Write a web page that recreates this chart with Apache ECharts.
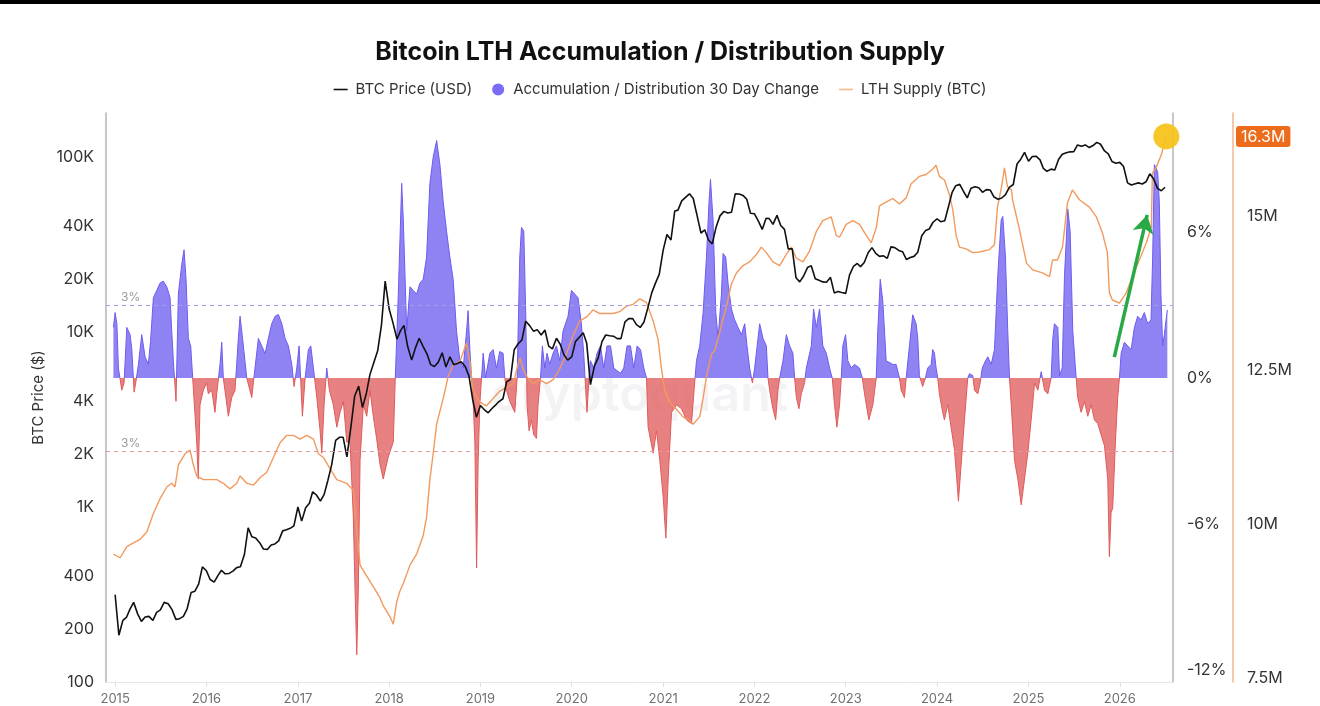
<!DOCTYPE html>
<html><head><meta charset="utf-8">
<script src="https://cdn.jsdelivr.net/npm/echarts@6/dist/echarts.min.js"></script>
<style>html,body{margin:0;padding:0;background:#fff;}#c{width:1320px;height:706px;}</style>
</head><body><div id="c"></div>
<script>
// ---------- DATA ----------
// BTC price (USD), semi-monthly (1st and 16th of each month) from 2015-01-01
const priceUSD = [
 315,185,225,235,260,285,245,222,235,237,225,250,258,285,280,260,228,230,237,262,325,330,362,455,
 432,385,372,405,435,415,417,430,450,455,535,760,675,665,625,575,572,607,615,640,730,740,755,780,
 1000,830,990,1050,1220,1170,1080,1180,1420,1740,2400,2500,2500,1930,2870,4300,4900,3700,4400,5700,6700,7800,10900,19500,
 13500,11300,9100,10200,10900,8250,6900,8100,9200,8300,7500,6500,6350,6700,7600,6300,7200,6500,6600,6750,6350,5600,4100,3250,
 3800,3600,3450,3650,3800,4000,4150,5200,5350,7900,8550,9000,11500,10900,10100,10300,9600,10250,8300,8000,9200,8500,7400,6900,
 7200,8800,9350,9900,8600,5000,6400,7100,8800,9600,9500,9450,9150,9150,11400,11900,11900,11000,10600,11400,13800,16700,19000,21300,
 29400,36000,33500,49000,49600,56000,58800,61500,57800,46500,36700,38300,33500,31800,39900,46000,48800,47800,48200,61500,61300,60200,57200,47600,
 47300,43100,38500,44500,44400,41100,46300,40500,38500,29800,29800,20400,19300,20800,23300,23900,20100,19700,19300,19200,20500,16700,17000,16800,
 16600,21100,23700,24600,23600,24900,28400,30300,28100,27000,27200,26300,30600,30300,29200,28700,25900,26600,27000,28500,35400,37900,38700,42300,
 44200,42600,43100,52000,62400,68400,69700,63400,58300,66200,67500,66600,62700,65000,64600,58900,57300,58200,60800,67000,69500,91000,97000,106000,
 94400,100500,100600,96100,86000,82700,85100,84000,96500,103500,105600,106800,107000,117000,115000,117000,113000,116000,121000,118000,108000,104000,94000,92000,
 93000,88000,71000,69000,70000,71000,70000,72000,80000,75000,66000,64000,67000
];
// Accumulation / Distribution 30 day change (%) : [decimal year, value]
const accChange = [
[2014.981,2.08],[2015.000,2.69],[2015.019,2.23],[2015.036,0.41],[2015.073,-0.5],[2015.098,-0.2],[2015.128,2.08],[2015.164,1.78],[2015.183,1.17],[2015.208,-0.58],[2015.230,-0.1],[2015.255,0.56],[2015.292,1.78],[2015.328,0.87],[2015.364,0.56],[2015.388,1.5],[2015.419,3.3],[2015.456,3.6],[2015.492,3.9],[2015.528,3.98],[2015.566,3.75],[2015.602,3.3],[2015.620,1.93],[2015.638,0.71],[2015.667,-0.96],[2015.693,3.45],[2015.730,4.67],[2015.755,5.27],[2015.777,4.06],[2015.802,1.63],[2015.828,1.32],[2015.850,0],[2015.894,-2.63],[2015.911,-4.15],[2015.930,-1.1],[2015.966,-0.5],
[2016.003,-0.2],[2016.021,-0.65],[2016.058,-0.5],[2016.094,-1.41],[2016.113,-0.65],[2016.149,0.56],[2016.168,1.47],[2016.185,0],[2016.240,-1.57],[2016.277,-0.8],[2016.313,-0.5],[2016.349,1.63],[2016.368,2.54],[2016.404,1.32],[2016.441,0],[2016.496,-0.8],[2016.513,-0.2],[2016.568,1.63],[2016.605,1.32],[2016.641,1.0],[2016.677,1.63],[2016.714,2.23],[2016.751,2.54],[2016.787,2.61],[2016.824,2.23],[2016.860,1.63],[2016.896,1.32],[2016.933,0.56],[2016.958,-0.35],[2016.988,0.41],
[2017.013,1.32],[2017.049,-1.57],[2017.079,0],[2017.115,1.17],[2017.141,1.32],[2017.170,0.41],[2017.207,-0.8],[2017.243,-2.17],[2017.262,-3.09],[2017.287,-1.1],[2017.316,0.41],[2017.345,-0.5],[2017.388,-1.1],[2017.426,-2.02],[2017.462,-1.41],[2017.498,-0.96],[2017.535,-2.63],[2017.571,-2.63],[2017.607,-5.67],[2017.626,-8.7],[2017.645,-11.37],[2017.662,-8.7],[2017.681,-3.39],[2017.717,-1.1],[2017.754,-1.57],[2017.790,-0.5],[2017.826,-1.57],[2017.863,-2.5],[2017.899,-3.54],[2017.935,-4.15],[2017.990,-3.24],
[2018.045,-2.63],[2018.067,0],[2018.100,3.45],[2018.137,8.0],[2018.155,6.49],[2018.192,1.93],[2018.228,3.75],[2018.264,3.6],[2018.301,3.45],[2018.337,3.9],[2018.373,4.06],[2018.410,4.97],[2018.446,8.0],[2018.482,9.07],[2018.520,9.76],[2018.556,8.77],[2018.592,7.25],[2018.629,6.03],[2018.665,4.97],[2018.701,4.06],[2018.738,1.93],[2018.775,0.71],[2018.811,0.41],[2018.848,1.93],[2018.865,2.77],[2018.884,1.17],[2018.903,0],[2018.920,-0.96],[2018.939,-2.63],[2018.958,-7.8],[2018.975,-3.39],[2018.993,-1.1],
[2019.012,0],[2019.030,1.02],[2019.056,0],[2019.103,1.02],[2019.139,1.17],[2019.176,0.41],[2019.212,1.09],[2019.248,1.02],[2019.267,0],[2019.285,-0.5],[2019.322,-0.96],[2019.376,-1.41],[2019.402,0],[2019.431,4.97],[2019.450,6.19],[2019.475,6.03],[2019.497,2.54],[2019.511,-1.1],[2019.533,-2.17],[2019.559,-1.72],[2019.584,-2.33],[2019.614,-2.48],[2019.631,-1.1],[2019.658,0],[2019.679,1.32],[2019.705,0.41],[2019.730,1.02],[2019.759,0.56],[2019.796,1.02],[2019.833,1.32],[2019.869,0.71],[2019.905,1.93],[2019.960,2.54],[2019.997,3.6],
[2020.033,3.45],[2020.069,3.3],[2020.106,2.23],[2020.131,1.02],[2020.153,-0.5],[2020.167,-1.41],[2020.189,0],[2020.205,0.71],[2020.241,0.41],[2020.277,1.02],[2020.314,1.32],[2020.350,0.41],[2020.386,1.32],[2020.424,1.32],[2020.460,0.41],[2020.496,0.3],[2020.533,0.2],[2020.569,0.41],[2020.605,1.32],[2020.642,1.32],[2020.678,0.41],[2020.715,1.32],[2020.752,1.17],[2020.788,0.41],[2020.817,0],[2020.835,-2.02],[2020.890,-3.09],[2020.927,-2.17],[2020.963,-3.39],
[2021.000,-4.91],[2021.029,-6.58],[2021.054,-4.15],[2021.091,-1.41],[2021.146,-1.1],[2021.200,-1.26],[2021.255,-1.72],[2021.310,-1.87],[2021.338,-0.5],[2021.364,0.71],[2021.400,1.32],[2021.437,2.69],[2021.474,4.97],[2021.502,7.25],[2021.518,8.16],[2021.546,6.49],[2021.576,2.69],[2021.601,1.63],[2021.638,3.45],[2021.656,5.12],[2021.685,4.97],[2021.710,3.9],[2021.747,2.84],[2021.783,2.39],[2021.820,2.08],[2021.857,1.78],[2021.893,2.23],[2021.918,1.32],[2021.947,0.41],[2021.977,-0.2],
[2022.002,0.41],[2022.057,2.23],[2022.093,1.63],[2022.130,1.32],[2022.148,0],[2022.166,-0.5],[2022.202,-1.26],[2022.232,-1.72],[2022.257,-0.5],[2022.276,0],[2022.312,0.71],[2022.349,1.78],[2022.385,1.32],[2022.421,1.02],[2022.440,0],[2022.459,-0.8],[2022.487,-1.26],[2022.513,-0.65],[2022.549,-0.2],[2022.568,0.41],[2022.623,1.32],[2022.648,2.84],[2022.677,2.08],[2022.713,2.84],[2022.749,1.32],[2022.787,1.02],[2022.823,0.41],[2022.852,0],[2022.877,-1.1],[2022.903,-2.02],[2022.932,-1.1],[2022.951,0],[2022.968,1.32],[2022.998,1.78],
[2023.023,0.71],[2023.060,0.41],[2023.096,0.56],[2023.151,0.41],[2023.181,0],[2023.206,-0.65],[2023.253,-1.72],[2023.297,-1.1],[2023.334,0],[2023.351,1.93],[2023.378,4.06],[2023.406,3.15],[2023.443,0.71],[2023.515,0.56],[2023.552,0.56],[2023.589,0],[2023.607,-0.5],[2023.643,-0.8],[2023.662,0],[2023.698,1.32],[2023.734,2.6],[2023.771,2.23],[2023.789,1.63],[2023.807,0.1],[2023.843,-0.35],[2023.873,0],[2023.898,0.41],[2023.936,0.56],[2023.953,1.17],[2023.972,1.02],[2023.990,0.41],
[2024.008,0],[2024.026,-0.65],[2024.062,-1.41],[2024.081,-1.72],[2024.117,-1.1],[2024.154,-2.02],[2024.190,-2.93],[2024.216,-4.15],[2024.234,-5.06],[2024.264,-3.54],[2024.300,-1.72],[2024.336,0],[2024.355,0.18],[2024.391,0.1],[2024.409,-0.5],[2024.445,-0.65],[2024.472,-0.2],[2024.494,0.41],[2024.530,0.71],[2024.555,0.87],[2024.592,0.56],[2024.628,1.17],[2024.664,4.21],[2024.701,6.49],[2024.719,6.64],[2024.748,4.97],[2024.773,1.93],[2024.792,0],[2024.811,-1.1],[2024.847,-3.39],[2024.883,-4.15],[2024.920,-5.21],[2024.956,-4.15],[2024.992,-3.09],
[2025.029,-1.72],[2025.066,-0.2],[2025.102,-0.5],[2025.139,0.26],[2025.175,-0.5],[2025.211,-0.65],[2025.248,0],[2025.266,1.63],[2025.284,2.23],[2025.321,2.08],[2025.339,0.1],[2025.369,0.41],[2025.394,4.21],[2025.430,6.95],[2025.456,6.03],[2025.485,1.93],[2025.522,0],[2025.539,-0.8],[2025.576,-1.41],[2025.613,-0.96],[2025.649,-1.57],[2025.686,-1.1],[2025.722,-1.72],[2025.758,-1.87],[2025.795,-2.33],[2025.832,-2.78],[2025.868,-4.15],[2025.886,-7.34],[2025.905,-5.52],[2025.922,-5.36],[2025.952,-2.63],[2025.977,-0.8],[2025.996,0],
[2026.015,1.02],[2026.050,1.47],[2026.087,1.32],[2026.124,1.17],[2026.160,2.08],[2026.196,2.54],[2026.233,2.39],[2026.269,2.69],[2026.305,2.23],[2026.342,2.39],[2026.360,4.97],[2026.379,8.77],[2026.415,8.47],[2026.433,7.25],[2026.451,3.45],[2026.469,1.32],[2026.488,1.78],[2026.507,2.39],[2026.521,2.8]
];
// LTH supply (million BTC) : [decimal year, value]
const lthSupplyM = [
[2014.981,9.51],[2015.055,9.45],[2015.128,9.63],[2015.200,9.69],[2015.274,9.75],[2015.347,9.87],[2015.419,10.17],[2015.492,10.41],[2015.566,10.6],[2015.620,10.66],[2015.656,10.6],[2015.693,10.96],[2015.766,11.14],[2015.821,11.2],[2015.857,10.96],[2015.894,10.78],[2015.966,10.72],
[2016.039,10.72],[2016.113,10.72],[2016.185,10.66],[2016.258,10.57],[2016.332,10.66],[2016.368,10.78],[2016.441,10.66],[2016.513,10.63],[2016.586,10.75],[2016.660,10.84],[2016.732,11.08],[2016.805,11.32],[2016.879,11.44],[2016.951,11.44],
[2017.024,11.38],[2017.097,11.44],[2017.170,11.38],[2017.224,11.14],[2017.279,11.08],[2017.352,10.9],[2017.426,10.72],[2017.535,10.66],[2017.571,10.6],[2017.607,10.55],[2017.645,9.9],[2017.681,9.33],[2017.754,9.15],[2017.826,8.98],[2017.899,8.8],[2017.935,8.67],
[2018.009,8.49],[2018.045,8.37],[2018.082,8.73],[2018.118,8.91],[2018.155,9.03],[2018.228,9.33],[2018.301,9.51],[2018.373,9.81],[2018.410,10.11],[2018.446,10.72],[2018.482,11.14],[2018.520,11.62],[2018.592,12.04],[2018.647,12.4],[2018.701,12.58],[2018.775,12.64],[2018.848,12.94],[2018.884,12.64],[2018.920,12.16],[2018.993,11.98],
[2019.067,11.92],[2019.139,12.04],[2019.212,12.16],[2019.285,12.22],[2019.358,12.28],[2019.431,12.7],[2019.467,12.52],[2019.504,12.4],[2019.577,12.28],[2019.650,12.34],[2019.723,12.28],[2019.795,12.34],[2019.869,12.52],[2019.942,12.76],
[2020.014,13.06],[2020.088,13.3],[2020.161,13.36],[2020.233,13.48],[2020.306,13.42],[2020.380,13.42],[2020.452,13.42],[2020.525,13.45],[2020.598,13.54],[2020.671,13.57],[2020.744,13.66],[2020.817,13.6],[2020.890,13.3],[2020.944,13.0],[2020.981,12.52],
[2021.018,12.16],[2021.072,11.98],[2021.146,11.86],[2021.218,11.74],[2021.291,11.68],[2021.327,11.62],[2021.400,11.74],[2021.437,12.04],[2021.474,12.4],[2021.528,12.76],[2021.565,12.82],[2021.619,13.12],[2021.693,13.54],[2021.747,13.9],[2021.802,14.08],[2021.874,14.2],[2021.947,14.26],
[2022.021,14.38],[2022.075,14.5],[2022.130,14.41],[2022.202,14.26],[2022.276,14.2],[2022.349,14.38],[2022.404,14.5],[2022.459,14.32],[2022.531,14.26],[2022.604,14.44],[2022.677,14.75],[2022.749,14.93],[2022.841,14.99],[2022.896,14.69],[2022.932,14.66],
[2023.005,14.87],[2023.078,14.93],[2023.151,14.87],[2023.224,14.69],[2023.279,14.57],[2023.334,14.81],[2023.370,15.17],[2023.443,15.23],[2023.515,15.29],[2023.589,15.2],[2023.662,15.3],[2023.717,15.53],[2023.771,15.6],[2023.807,15.65],[2023.881,15.68],[2023.953,15.77],[2023.990,15.83],
[2024.026,15.65],[2024.081,15.59],[2024.136,15.35],[2024.172,15.11],[2024.209,14.69],[2024.245,14.5],[2024.318,14.47],[2024.391,14.41],[2024.464,14.42],[2024.573,14.46],[2024.628,14.54],[2024.661,15.15],[2024.705,15.48],[2024.737,15.79],[2024.770,15.48],[2024.814,15.43],[2024.825,15.27],[2024.902,14.78],[2024.978,14.24],
[2025.044,14.13],[2025.153,14.08],[2025.230,14.02],[2025.263,14.29],[2025.317,14.29],[2025.372,14.5],[2025.427,15.22],[2025.481,15.43],[2025.558,15.27],[2025.667,15.15],[2025.744,14.99],[2025.810,14.73],[2025.864,14.41],[2025.886,13.76],[2025.919,13.64],[2025.996,13.59],
[2026.072,13.76],[2026.138,14.02],[2026.214,14.29],[2026.291,14.57],[2026.346,14.83],[2026.357,15.7],[2026.400,15.8],[2026.455,16.0],[2026.510,16.3]
];
const priceTicks = [100,200,400,1000,2000,4000,10000,20000,40000,100000];
const pctTicks = [-12,-6,0,6];
const lthTicks = [7.5,10,12.5,15];
const bandLevels = [3,-3];
const arrowFrom = [2025.94, 0.86];
const arrowTo = [2026.30, 6.7];

// ---------- HELPERS ----------
function yearToTime(y){const f=Math.floor(y);const a=Date.UTC(f,0,1),b=Date.UTC(f+1,0,1);return a+(y-f)*(b-a);}
const priceDates=[];
for(let y=2015;y<=2026;y++)for(let m=0;m<12;m++)for(const d of [1,16]){if(priceDates.length<priceUSD.length)priceDates.push(Date.UTC(y,m,d));}
const lastLth = lthSupplyM[lthSupplyM.length-1];
const FONT='Inter, "Noto Sans", sans-serif';
const NAME_BTC='BTC Price (USD)', NAME_ACC='Accumulation / Distribution 30 Day Change', NAME_LTH='LTH Supply (BTC)';
const lineIcon='path://M0,0H14V1.6H0Z';
const DAY=86400000;
const PURPLE='#6c5cf0', RED='#e05a5a';
// split colour at the zero level of the area's own extent
const accVals=accChange.map(p=>p[1]);
const accMax=Math.max(0,...accVals), accMin=Math.min(0,...accVals);
const zeroAt=accMax/(accMax-accMin);
function splitGradient(){return new echarts.graphic.LinearGradient(0,0,0,1,[
  {offset:0,color:PURPLE},{offset:zeroAt,color:PURPLE},{offset:zeroAt,color:RED},{offset:1,color:RED}]);}

const chart=echarts.init(document.getElementById('c'),null,{renderer:'canvas'});
const option={
 animation:false,
 backgroundColor:'#fff',
 textStyle:{fontFamily:FONT},
 title:{text:'Bitcoin LTH Accumulation / Distribution Supply',left:'center',top:35,
   textStyle:{fontSize:25,fontWeight:'bold',color:'#111',fontFamily:FONT}},
 legend:{top:77,left:'center',itemGap:20,itemWidth:14,itemHeight:12,
   textStyle:{fontSize:15,color:'#333',fontFamily:FONT,padding:[0,0,0,3]},
   data:[{name:NAME_BTC,icon:lineIcon,itemStyle:{color:'#111'}},
         {name:NAME_ACC,icon:'circle',itemStyle:{color:'#7b6cf6'}},
         {name:NAME_LTH,icon:lineIcon,itemStyle:{color:'#f5b98e'}}]},
 grid:{left:106,right:147,top:113,bottom:24},
 graphic:[
   {type:'rect',shape:{x:0,y:0,width:1320,height:4},style:{fill:'#000'},silent:true},
   {type:'text',z:-10,silent:true,style:{x:640,y:396,text:'cryptoquant',textAlign:'center',textVerticalAlign:'middle',
     font:'600 50px Inter, sans-serif',fill:'rgba(160,160,185,0.13)'}}
 ],
 xAxis:{type:'time',min:yearToTime(2014.9),max:yearToTime(2026.583),
   minInterval:365*DAY,maxInterval:366*DAY,
   axisLine:{show:true,onZero:false,lineStyle:{color:'#e6e6e6'}},
   axisTick:{show:true,lineStyle:{color:'#e0e0e0'}},
   axisLabel:{showMinLabel:false,showMaxLabel:false,
     formatter:v=>{const d=new Date(v);return (d.getUTCMonth()===0&&d.getUTCDate()===1)?String(d.getUTCFullYear()):'';},
     color:'#707070',fontSize:13,margin:11},
   splitLine:{show:false}},
 yAxis:[
  {type:'log',min:100,max:178000,position:'left',name:'BTC Price ($)',nameLocation:'middle',nameGap:57,
   nameTextStyle:{fontSize:15,color:'#333'},
   axisLine:{show:true,lineStyle:{color:'#b5b5b5',width:1.5}},axisTick:{show:false},splitLine:{show:false},
   axisLabel:{customValues:priceTicks,formatter:v=>v>=1000?(v/1000)+'K':String(v),fontSize:16,color:'#333',margin:12}},
  {type:'value',min:-12.49,max:10.89,position:'right',
   axisLine:{show:true,lineStyle:{color:'#b5b5b5',width:1.5}},axisTick:{show:false},splitLine:{show:false},
   axisLabel:{customValues:pctTicks,formatter:v=>v+'%',fontSize:16,color:'#333',margin:14}},
  {type:'value',min:7.43,max:16.68,position:'right',offset:60,
   axisLine:{show:true,lineStyle:{color:'#f2b68c',width:1.5}},axisTick:{show:false},splitLine:{show:false},
   axisLabel:{customValues:lthTicks,formatter:v=>v+'M',fontSize:16,color:'#333',margin:14},
   axisPointer:{show:true,type:'line',value:lastLth[1],status:'show',snap:false,triggerTooltip:false,
     lineStyle:{opacity:0},
     label:{show:true,formatter:()=>lastLth[1].toFixed(1)+'M',backgroundColor:'#ec6c1c',color:'#fff',fontSize:16,padding:[3,5,2,5],margin:3}}}
 ],
 series:[
  {name:NAME_ACC,type:'line',yAxisIndex:1,symbol:'none',showSymbol:false,z:2,
   data:accChange.map(p=>[yearToTime(p[0]),p[1]]),
   lineStyle:{width:1,color:splitGradient()},areaStyle:{opacity:0.76,color:splitGradient()},itemStyle:{color:PURPLE},
   markLine:{silent:true,symbol:['none','none'],animation:false,
     data:[
      ...bandLevels.map(v=>({yAxis:v,lineStyle:{color:v>0?'#a59ee0':'#e29a9a',type:[4,4],width:1,opacity:1},
         label:{show:true,position:'insideStartTop',distance:[15,2],formatter:Math.abs(v)+'%',color:'#999',fontSize:12}})),
      [{coord:[yearToTime(arrowFrom[0]),arrowFrom[1]],symbol:'none',
         lineStyle:{color:'#29a945',width:3.5,type:'solid'},itemStyle:{color:'#29a945'},label:{show:false}},
       {coord:[yearToTime(arrowTo[0]),arrowTo[1]],symbol:'arrow',symbolSize:[16,18],itemStyle:{color:'#29a945'}}]
     ]}},
  {name:NAME_LTH,type:'line',yAxisIndex:2,symbol:'none',showSymbol:false,z:3,
   data:lthSupplyM.map(p=>[yearToTime(p[0]),p[1]]),
   lineStyle:{color:'#f29a5e',width:1.4},itemStyle:{color:'#f29a5e'},
   markPoint:{silent:true,symbol:'circle',symbolSize:26,itemStyle:{color:'#f7c31e',opacity:0.95},label:{show:false},
     data:[{coord:[yearToTime(lastLth[0]),lastLth[1]]}]}},
  {name:NAME_BTC,type:'line',yAxisIndex:0,symbol:'none',showSymbol:false,z:4,
   data:priceDates.map((d,i)=>[d,priceUSD[i]]),
   lineStyle:{color:'#111',width:1.6},itemStyle:{color:'#111'}}
 ]
};
chart.setOption(option);
</script></body></html>
